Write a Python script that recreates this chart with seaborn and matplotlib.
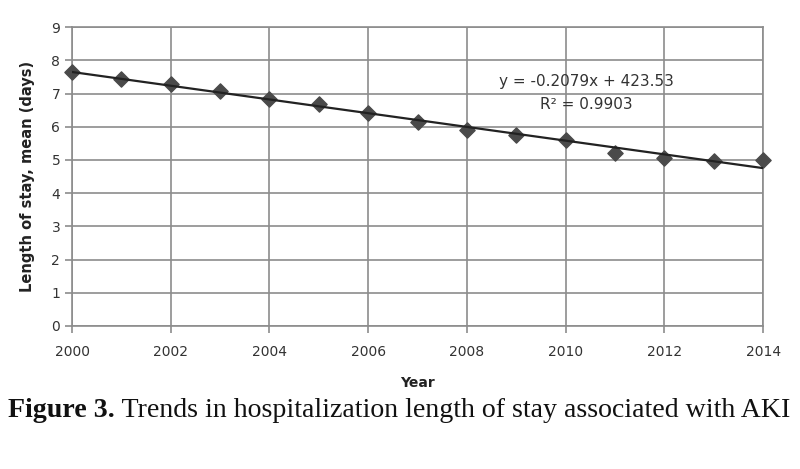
import numpy as np
import pandas as pd
import matplotlib
matplotlib.use("Agg")
import matplotlib.pyplot as plt
import seaborn as sns

years = [2000, 2001, 2002, 2003, 2004, 2005, 2006, 2007, 2008, 2009, 2010, 2011, 2012, 2013, 2014]
los_mean = [7.64, 7.44, 7.29, 7.08, 6.84, 6.68, 6.41, 6.15, 5.90, 5.75, 5.60, 5.22, 5.07, 4.97, 5.00]
x_ticks = [2000, 2002, 2004, 2006, 2008, 2010, 2012, 2014]
y_ticks = [0, 1, 2, 3, 4, 5, 6, 7, 8, 9]
equation_text = "y = -0.2079x + 423.53"
r2_text = "R² = 0.9903"
x_label = "Year"
y_label = "Length of stay, mean (days)"
caption_bold = "Figure 3."
caption_rest = " Trends in hospitalization length of stay associated with AKI"

df = pd.DataFrame({"year": years, "los": los_mean})

sns.set_theme(style="white")
plt.rcParams['font.family'] = ['DejaVu Sans']

fig = plt.figure(figsize=(8, 4.69), dpi=100)
ax = fig.add_axes([0.09, 0.305, 0.864, 0.637])

sns.regplot(data=df, x="year", y="los", ax=ax, ci=None, truncate=True,
            marker="D",
            scatter_kws=dict(s=60, color="#4a4a4a", edgecolors="#4a4a4a", alpha=1, zorder=3, clip_on=False),
            line_kws=dict(color="#222222", lw=1.6, zorder=4))

ax.set_xlim(2000, 2014)
ax.set_ylim(0, 9)
ax.set_xticks(x_ticks)
ax.set_yticks(y_ticks)
ax.grid(True, color="#8c8c8c", lw=1.2)
ax.set_axisbelow(True)
for s in ax.spines.values():
    s.set_color("#8c8c8c")
    s.set_linewidth(1.2)
ax.tick_params(axis="both", which="both", length=5, color="#8c8c8c", width=1.2,
               labelsize=10, labelcolor="#333333", direction="out", bottom=True, left=True)
ax.tick_params(axis="x", pad=9)
ax.set_xlabel(x_label, fontsize=10, fontweight="bold", color="#222222", labelpad=12)
ax.set_ylabel(y_label, fontsize=10.5, fontweight="bold", color="#222222", labelpad=12)

ax.text(2010.41, 7.35, equation_text, ha="center", va="center", fontsize=11, color="#333333")
ax.text(2010.41, 6.66, r2_text, ha="center", va="center", fontsize=11, color="#333333")

cap_y = 0.124
t1 = fig.text(0.010, cap_y, caption_bold, fontsize=20.1, fontweight="bold",
              family=["Liberation Serif"], color="#111111", va="center")
fig.canvas.draw()
bb = t1.get_window_extent()
fig.text(bb.x1 / fig.bbox.width, cap_y, caption_rest, fontsize=20.1,
         family=["Liberation Serif"], color="#111111", va="center")

fig.savefig("out.png", dpi=100)
